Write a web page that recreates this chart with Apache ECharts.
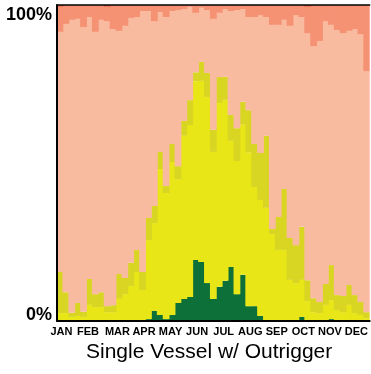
<!DOCTYPE html>
<html>
<head>
<meta charset="utf-8">
<script src="https://cdn.jsdelivr.net/npm/echarts@6/dist/echarts.min.js"></script>
<style>
html,body{margin:0;padding:0;background:#fff;}
#c{width:371px;height:374px;}
</style>
</head>
<body>
<div id="c"></div>
<script>
// 53 weekly bars (share of activity, %), bottom to top
const weeks = Array.from({length: 53}, (_, i) => 'W' + (i + 1));
const green = [0,0,0,0,0,0,0,0,0,0,0,0,0,0,0,0.6,3.2,1.9,0.6,1.9,5.7,7.0,7.6,19.3,18.7,12.0,7.0,10.8,12.7,17.1,8.5,14.6,4.7,4.7,1.6,0,0,0,0,0,0,1.3,0,0,0,0,0.6,0,0,0,0,0,0];
const yellow = [2.5,2.5,1.3,1.6,1.3,5.1,4.4,4.4,2.8,2.8,7.0,8.5,11.1,15.5,9.8,25.0,27.8,46.2,39.9,48.4,39.2,51.6,54.4,56.6,57.3,58.9,46.5,58.2,57.3,39.9,42.1,47.5,48.7,37.7,36.7,35.8,27.5,22.5,22.5,13.0,12.0,11.7,6.3,2.8,2.5,5.1,6.0,3.5,2.8,5.1,2.5,1.9,0.9];
const olive = [13.0,6.6,1.3,4.1,1.6,8.2,4.1,4.7,1.9,2.2,7.9,5.1,7.3,7.0,5.7,7.0,5.4,5.4,2.2,5.7,4.1,4.7,7.9,2.8,6.0,7.6,7.0,8.2,7.3,8.2,10.4,7.3,13.3,13.6,14.9,22.8,1.6,10.4,19.3,13.3,12.0,16.8,6.6,4.4,3.5,6.6,11.1,4.7,5.1,6.3,5.7,4.1,1.9];
const salmon = [76.0,84.9,92.7,89.9,90.1,82.9,83.0,86.2,90.2,87.4,76.9,79.8,77.5,73.7,82.6,65.5,58.5,44.3,53.5,42.1,49.4,35.4,29.5,18.8,17.1,19.9,35.1,20.3,21.3,32.9,37.4,29.3,29.5,40.2,43.6,37.6,64.6,60.8,53.5,67.1,72.8,66.4,78.2,79.8,82.6,83.2,76.0,83.9,83.2,80.4,84.2,84.8,76.3];
const darkSalmon = [7.9,6.0,4.7,4.4,7.0,3.8,8.5,4.7,4.5,7.6,8.2,6.6,4.1,3.8,1.9,1.9,5.1,2.2,3.8,1.9,1.6,1.3,0.6,2.5,0.9,1.6,4.4,2.5,1.4,1.9,1.6,1.3,3.8,3.8,3.2,3.8,6.3,6.3,4.7,6.6,3.2,3.8,8.3,13.0,11.4,5.1,6.3,7.9,8.9,8.2,7.6,9.2,20.9];
const red = [0.6,0,0,0,0,0,0,0,0.6,0,0,0,0,0,0,0,0,0,0,0,0,0,0,0,0,0,0,0,0,0,0,0,0,0,0,0,0,0,0,0,0,0,0.6,0,0,0,0,0,0,0,0,0,0];

// month tick labels, placed on a half-week grid (106 half-week slots)
const monthNames = ['JAN','FEB','MAR','APR','MAY','JUN','JUL','AUG','SEP','OCT','NOV','DEC'];
const monthSlots = [1,10,20,29,38,47,56,65,74,83,92,101];
const yTickTop = '100%';
const yTickBottom = '0%';
const title = 'Single Vessel w/ Outrigger';

const halfSlots = Array.from({length: 106}, () => '');
monthSlots.forEach((s, i) => { halfSlots[s] = monthNames[i]; });

const colors = ['#0c7038', '#e8e617', '#d9d523', '#f9bba0', '#f59274', '#ec6a4d'];
const seriesData = [green, yellow, olive, salmon, darkSalmon, red];

const chart = echarts.init(document.getElementById('c'), null, {renderer: 'canvas'});
chart.setOption({
  animation: false,
  backgroundColor: '#ffffff',
  title: {
    text: title,
    left: 81, top: 337,
    textStyle: {fontFamily: 'Liberation Sans', fontWeight: 'normal', fontSize: 21, color: '#000'}
  },
  grid: {left: 57, right: -4, top: 5, bottom: 53, containLabel: false},
  xAxis: [
    {type: 'category', data: weeks, position: 'bottom', z: 10,
     axisLine: {show: true, lineStyle: {color: '#000', width: 2}},
     axisTick: {show: false}, axisLabel: {show: false}, splitLine: {show: false}},
    {type: 'category', data: halfSlots, position: 'bottom', z: 10,
     axisLine: {show: false}, axisTick: {show: false}, splitLine: {show: false},
     axisLabel: {show: true, interval: (idx, v) => v !== '', margin: 5,
       fontFamily: 'Liberation Sans', fontWeight: 'bold', fontSize: 11, color: '#000'}},
    {type: 'category', data: weeks, position: 'top', z: 10,
     axisLine: {show: true, lineStyle: {color: '#000', width: 1.5}},
     axisTick: {show: false}, axisLabel: {show: false}, splitLine: {show: false}}
  ],
  yAxis: [
    {type: 'value', min: 0, max: 100, interval: 100, position: 'left', z: 10,
     axisLine: {show: true, lineStyle: {color: '#000', width: 2}},
     axisTick: {show: false}, splitLine: {show: false},
     axisLabel: {show: true, margin: 5, verticalAlign: 'top', lineHeight: 20,
       formatter: v => v === 100 ? yTickTop : '',
       fontFamily: 'Liberation Sans', fontWeight: 'bold', fontSize: 18, color: '#000'}},
    {type: 'value', min: 0, max: 100, interval: 100, position: 'left', z: 10,
     axisLine: {show: false}, axisTick: {show: false}, splitLine: {show: false},
     axisLabel: {show: true, margin: 5, verticalAlign: 'bottom', lineHeight: 12,
       formatter: v => v === 0 ? yTickBottom : '',
       fontFamily: 'Liberation Sans', fontWeight: 'bold', fontSize: 18, color: '#000'}}
  ],
  series: seriesData.map((d, i) => ({
    type: 'bar', stack: 'all', data: d, xAxisIndex: 0, yAxisIndex: 0,
    barWidth: 6.8, barGap: '0%',
    itemStyle: {color: colors[i]},
    emphasis: {disabled: true}
  }))
});
</script>
</body>
</html>
